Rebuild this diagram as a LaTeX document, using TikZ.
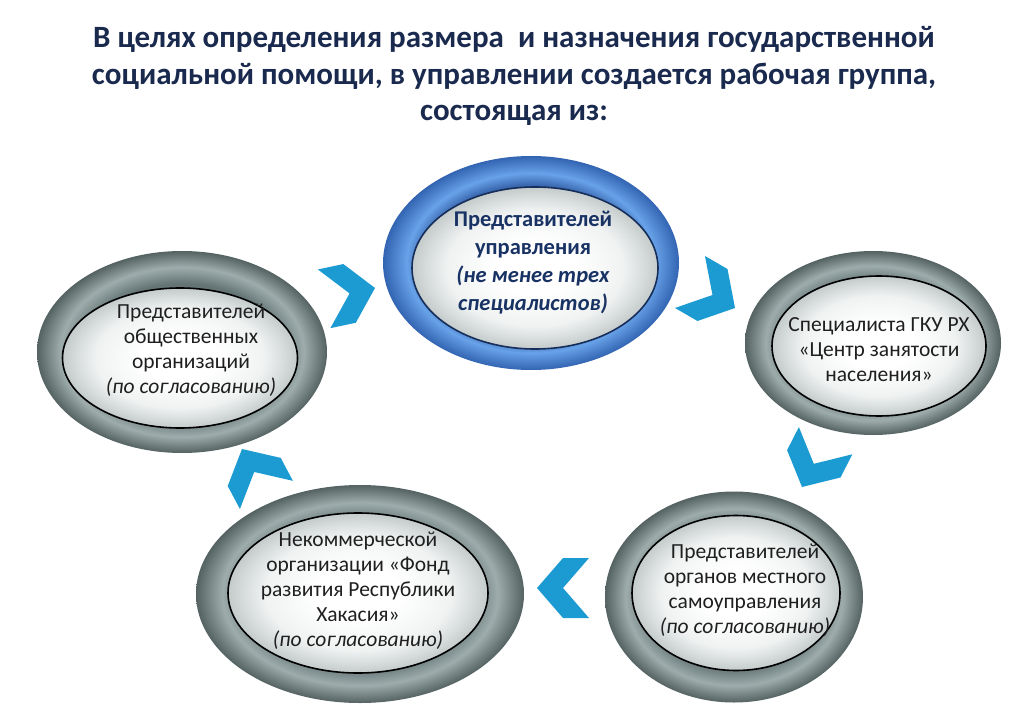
\documentclass[tikz,border=0pt]{standalone}
\usepackage{fontspec}
\setmainfont{Carlito}
\usetikzlibrary{shapes.geometric}

\definecolor{titleblue}{RGB}{26,42,78}
\definecolor{txtblue}{RGB}{24,50,100}
\definecolor{chevblue}{RGB}{27,155,210}
\definecolor{ringdark}{RGB}{84,98,98}
\definecolor{ringlight}{RGB}{158,172,172}
\definecolor{ringin}{RGB}{100,116,116}
\definecolor{bluedark}{RGB}{50,100,178}
\definecolor{bluelight}{RGB}{104,162,232}
\definecolor{bluein}{RGB}{36,76,148}
\definecolor{diskmid}{RGB}{240,242,242}
\definecolor{diskedge}{RGB}{196,203,203}

\pgfdeclareradialshading{ringgray}{\pgfpoint{0bp}{0bp}}{color(0bp)=(ringin); color(17bp)=(ringin); color(21bp)=(ringlight); color(25bp)=(ringdark); color(50bp)=(ringdark)}
\pgfdeclareradialshading{ringblue}{\pgfpoint{0bp}{0bp}}{color(0bp)=(bluein); color(17bp)=(bluein); color(21bp)=(bluelight); color(25bp)=(bluedark); color(50bp)=(bluedark)}
\pgfdeclareradialshading{diskgray}{\pgfpoint{0bp}{0bp}}{color(0bp)=(white); color(8bp)=(white); color(18bp)=(diskmid); color(25bp)=(diskedge); color(50bp)=(diskedge)}

\tikzset{chev/.pic={\fill[chevblue] (0,0) -- (-26,-30) -- (-52,-30) -- (-26,0) -- (-52,30) -- (-26,30) -- cycle;}}

\begin{document}
\begin{tikzpicture}[x=1pt,y=-1pt,
  ring/.style={ellipse,inner sep=0pt,shading=ringgray},
  bluering/.style={ellipse,inner sep=0pt,shading=ringblue},
  disk/.style={ellipse,inner sep=0pt,shading=diskgray,draw=black,line width=1.6pt},
  txt/.style={align=center,text=black!88,font=\fontsize{21.5}{25}\selectfont},
  head/.style={align=center,text=titleblue,font=\fontsize{31}{36.5}\selectfont\bfseries}]
\useasboundingbox[fill=white] (0,0) rectangle (1024,708);
\node[head] (head) at (514,76) {В целях определения размера\ \ и назначения государственной\\
  социальной помощи, в управлении создается рабочая группа,\\ состоящая из:};
% Ellipsen
\node[bluering,minimum width=296pt,minimum height=214pt] (upr ring) at (531,263) {};
\node[disk,draw=bluein!60!black,minimum width=246pt,minimum height=162pt] (upr disk) at (535,268) {};
\node[txt,text=txtblue,font=\fontsize{22.5}{28}\selectfont\bfseries] (upr) at (533,263)
  {Представителей\\ управления\\ \textit{(не менее трех}\\ \textit{специалистов)}};
\node[ring,minimum width=290pt,minimum height=202pt] (soc ring) at (182,352) {};
\node[disk,minimum width=235pt,minimum height=140pt] (soc disk) at (180,358) {};
\node[txt] (soc) at (191,350) {Представителей\\ общественных\\ организаций\\ \textit{(по согласованию)}};
\node[ring,minimum width=256pt,minimum height=184pt] (gku ring) at (873,343) {};
\node[disk,minimum width=214pt,minimum height=140pt] (gku disk) at (879,346) {};
\node[txt] (gku) at (879,350) {Специалиста ГКУ РХ\\ «Центр занятости\\ населения»};
\node[ring,minimum width=258pt,minimum height=211pt] (mso ring) at (734,597) {};
\node[disk,minimum width=208pt,minimum height=155pt] (mso disk) at (736,593) {};
\node[txt] (mso) at (745,590) {Представителей\\ органов местного\\ самоуправления\\ \textit{(по согласованию)}};
\node[ring,minimum width=328pt,minimum height=218pt] (fond ring) at (360,594) {};
\node[disk,minimum width=260pt,minimum height=160pt] (fond disk) at (358,593) {};
\node[txt] (fond) at (358,591) {Некоммерческой\\ организации «Фонд\\ развития Республики\\ Хакасия»\\ \textit{(по согласованию)}};
% Pfeile
\pic[rotate=12] at (375,288) {chev};
\pic[rotate=-30] at (735,308) {chev};
\pic[rotate=-117] at (802,487) {chev};
\pic[rotate=180] at (537,588) {chev};
\pic[rotate=118] at (242,449) {chev};
\end{tikzpicture}
\end{document}
